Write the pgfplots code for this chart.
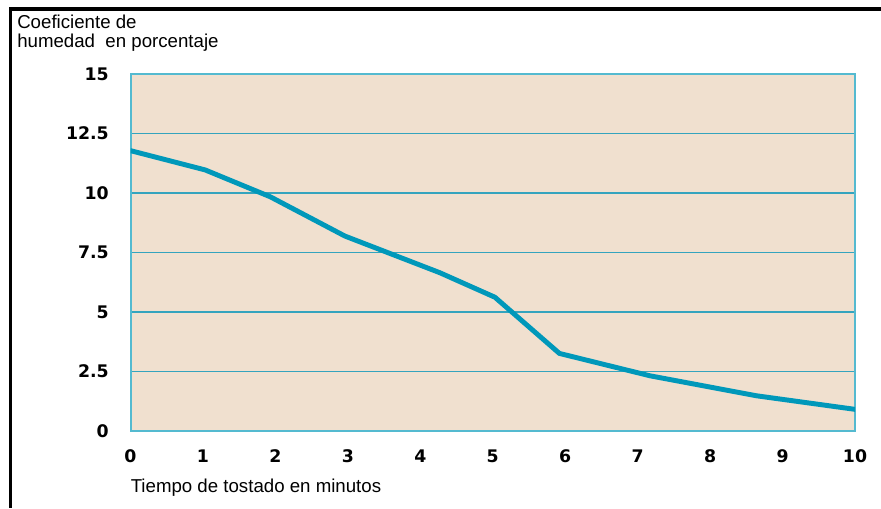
\documentclass[border=0pt]{standalone}
\usepackage{fontspec}
\setmainfont{Liberation Sans}
\newfontfamily\tickfont{DejaVu Sans}
\usepackage{pgfplots}
\pgfplotsset{compat=1.18}

\definecolor{bgbeige}{RGB}{240,224,207}
\definecolor{gridteal}{RGB}{52,164,190}
\definecolor{frameteal}{RGB}{84,186,208}
\definecolor{curveteal}{RGB}{0,152,186}

% moisture content during roasting
\pgfplotstableread{
t    h
0    11.78
1.03 10.97
1.93 9.84
2.96 8.19
4.27 6.65
5.03 5.62
5.92 3.26
7.17 2.32
8.64 1.48
10   0.91
}\humedad

\begin{document}
\begin{tikzpicture}
\path[use as bounding box] (0,0) rectangle (660.75pt,381pt);
% page frame
\draw[line width=2.8pt] (660.75pt,374.25pt) -- (7.9pt,374.25pt) -- (7.9pt,0pt);

\begin{axis}[
  at={(97.875pt,57.75pt)}, anchor=south west,
  scale only axis, width=543.375pt, height=267.75pt,
  xmin=0, xmax=10, ymin=0, ymax=15,
  xtick={0,1,...,10},
  ytick={0,2.5,5,7.5,10,12.5,15},
  axis background/.style={fill=bgbeige},
  axis line style={draw=frameteal, line width=1.5pt},
  ymajorgrids,
  grid style={draw=gridteal, line width=1.1pt},
  major tick length=0pt,
  tick style={draw=none},
  /pgf/number format/assume math mode=true,
  ticklabel style={font=\tickfont\bfseries\fontsize{13}{15}\selectfont, inner sep=0pt, text=black},
  xticklabel style={anchor=center, yshift=-18.75pt},
  yticklabel style={anchor=east, xshift=-16.1pt},
  xlabel={Tiempo de tostado en minutos},
  xlabel style={at={(axis description cs:0,0)}, anchor=base west, yshift=-45.75pt, inner sep=0pt, font=\fontsize{14}{16}\selectfont},
]
\addplot[curveteal, line width=3.7pt, line join=round, line cap=round] table[x=t, y=h] {\humedad};
\end{axis}

\node[anchor=base west, inner sep=0pt, font=\fontsize{14}{16}\selectfont] at (12.75pt,359.8pt) {Coeficiente de};
\node[anchor=base west, inner sep=0pt, font=\fontsize{14}{16}\selectfont] at (12.75pt,345.5pt) {humedad\ \ en porcentaje};
\end{tikzpicture}
\end{document}
